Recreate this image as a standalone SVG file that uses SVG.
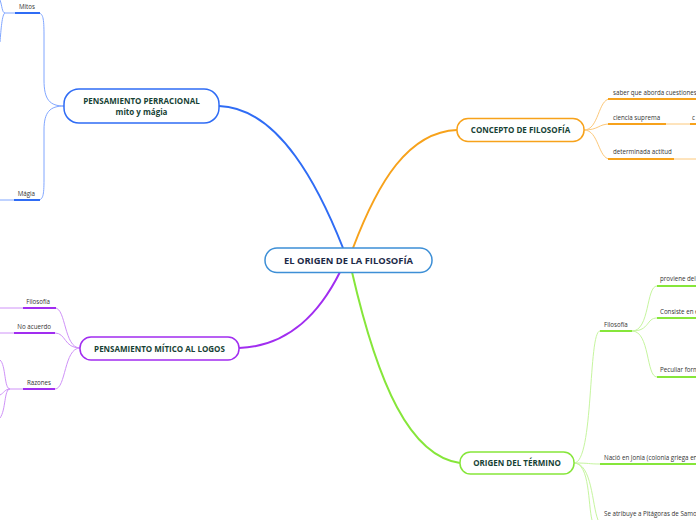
<svg xmlns="http://www.w3.org/2000/svg" width="696" height="520" viewBox="0 0 696 520">
<style>
.t{font-family:"Open Sans","Noto Sans",sans-serif;font-size:6.2px;fill:#333}
.h{font-family:"Open Sans","Noto Sans",sans-serif;font-size:8px;font-weight:bold;fill:#174235;text-anchor:middle}
.c{font-family:"Open Sans","Noto Sans",sans-serif;font-size:9.4px;font-weight:bold;fill:#1c2a48;text-anchor:middle}
.box{fill:#fff;stroke-width:1.5}
.th{fill:none;stroke-width:2}
.tn{fill:none;stroke-width:1}
.bl{stroke:#2f6cf5}.blt{stroke:#80a6ff}
.or{stroke:#f7a21b}.ort{stroke:#fcc87a}
.pu{stroke:#a12df0}.put{stroke:#cf92f8}
.gr{stroke:#86e63a}.grt{stroke:#c6f59f}
</style>
<g id="connectors">
<path class="th bl" d="M219,106 C280,108 320,190 343,248"/>
<path class="th or" d="M353,248 C378,182 408,132 457,130"/>
<path class="th pu" d="M340,272 C320,312 290,346 239,348"/>
<path class="th gr" d="M352,272 C378,385 410,456 460,463"/>
<path class="tn blt" d="M64,106 C50,106 44,100 44,80 L44,35 C44,18 43,13 38,13"/>
<path class="tn blt" d="M64,106 C50,106 44,112 44,130 L44,180 C44,195 43,200 38,200"/>
<path class="tn blt" d="M15,13 L5,13 C2,13 2,5 0,0"/>
<path class="tn blt" d="M5,13 C2,14 1,30 0,42"/>
<path class="tn blt" d="M14,200 L0,200"/>
<path class="tn ort" d="M584,130 C599,130 598,99 610,99"/>
<path class="tn ort" d="M584,130 C599,130 598,124 610,124"/>
<path class="tn ort" d="M584,130 C599,130 598,159 610,159"/>
<path class="tn ort" d="M666,124 L690,124"/>
<path class="tn ort" d="M674,159 L696,159"/>
<path class="tn put" d="M80,348 C64,348 66,308 55,308"/>
<path class="tn put" d="M80,348 C64,348 66,333 55,333"/>
<path class="tn put" d="M80,348 C64,348 66,389 55,389"/>
<path class="tn put" d="M23,308 L0,308"/>
<path class="tn put" d="M14,333 L0,333"/>
<path class="tn put" d="M23,389 L10,389 C4,389 6,365 0,360"/>
<path class="tn put" d="M10,389 C5,389 4,393 0,395"/>
<path class="tn put" d="M10,389 C4,389 6,410 0,418"/>
<path class="tn grt" d="M574,463 C594,463 588,331 600,331"/>
<path class="tn grt" d="M574,463 C590,463 588,464 600,464"/>
<path class="tn grt" d="M574,463 C590,463 588,505 592,520"/>
<path class="tn grt" d="M574,463 C592,463 592,505 598,520"/>
<path class="tn grt" d="M632,331 C650,331 646,286 657,286"/>
<path class="tn grt" d="M632,331 C650,331 646,318 657,318"/>
<path class="tn grt" d="M632,331 C650,331 646,377 657,377"/>
</g>
<g id="center">
<rect class="box" x="265" y="248" width="167" height="24.5" rx="12" stroke="#3d8fd6"/>
<text class="c" x="348.5" y="263.5">EL ORIGEN DE LA FILOSOFÍA</text>
</g>
<g id="perracional">
<rect class="box bl" x="64" y="89" width="155" height="34" rx="15"/>
<text class="h" x="141.5" y="103.5">PENSAMIENTO PERRACIONAL</text>
<text class="h" x="141.5" y="115">mito y mágia</text>
</g>
<g id="mitos"><text class="t" x="35" y="8.5" text-anchor="end">Mitos</text><path class="th bl" d="M15,13 L40,13"/></g>
<g id="magia"><text class="t" x="35" y="195.5" text-anchor="end">Mágia</text><path class="th bl" d="M14,200 L40,200"/></g>
<g id="concepto">
<rect class="box or" x="457" y="118.5" width="127" height="23" rx="11"/>
<text class="h" x="520.5" y="133">CONCEPTO DE FILOSOFÍA</text>
</g>
<g id="saber"><text class="t" x="613" y="94.5">saber que aborda cuestiones</text><path class="th or" d="M608,99 L696,99"/></g>
<g id="ciencia"><text class="t" x="613" y="119.5">ciencia suprema</text><path class="th or" d="M608,124 L666,124"/></g>
<g id="ciencia-c"><text class="t" x="692" y="119.5">c</text><path class="th or" d="M690,124 L696,124"/></g>
<g id="actitud"><text class="t" x="613" y="154">determinada actitud</text><path class="th or" d="M608,159 L674,159"/></g>
<g id="mitico">
<rect class="box pu" x="80" y="337" width="159" height="23" rx="11"/>
<text class="h" x="159.5" y="351.5">PENSAMIENTO MÍTICO AL LOGOS</text>
</g>
<g id="filosofia-p"><text class="t" x="50" y="303.5" text-anchor="end">Filosofía</text><path class="th pu" d="M23,308 L56,308"/></g>
<g id="noacuerdo"><text class="t" x="51" y="328.5" text-anchor="end">No acuerdo</text><path class="th pu" d="M14,333 L55,333"/></g>
<g id="razones"><text class="t" x="51" y="384.5" text-anchor="end">Razones</text><path class="th pu" d="M23,389 L55,389"/></g>
<g id="origen">
<rect class="box gr" x="460" y="452" width="114" height="22" rx="10.5"/>
<text class="h" x="517" y="466">ORIGEN DEL TÉRMINO</text>
</g>
<g id="filosofia-g"><text class="t" x="604" y="326.5">Filosofía</text><path class="th gr" d="M600,331 L632,331"/></g>
<g id="proviene"><text class="t" x="660" y="281">proviene del</text><path class="th gr" d="M657,286 L696,286"/></g>
<g id="consiste"><text class="t" x="660" y="313.5">Consiste en e</text><path class="th gr" d="M657,318 L696,318"/></g>
<g id="peculiar"><text class="t" x="660" y="372">Peculiar form</text><path class="th gr" d="M657,377 L696,377"/></g>
<g id="nacio"><text class="t" x="604" y="459.5">Nació en Jonia (colonia griega en</text><path class="th gr" d="M600,464 L696,464"/></g>
<g id="atribuye"><text class="t" x="604" y="515.5">Se atribuye a Pitágoras de Samos</text></g>
</svg>
